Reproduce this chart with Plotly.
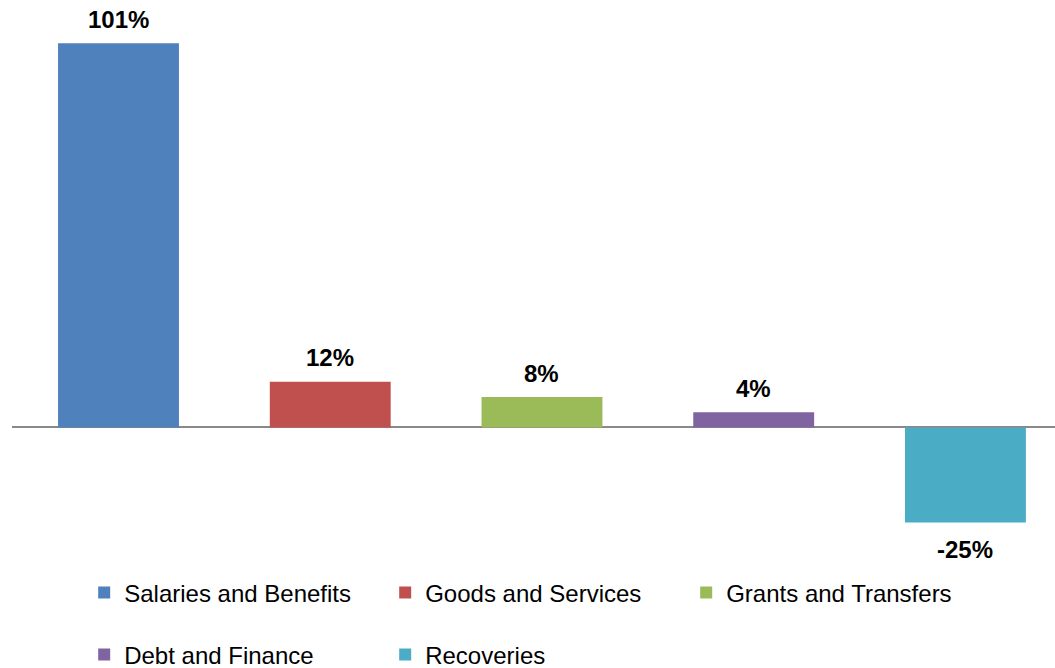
import plotly.graph_objects as go

categories = ["Salaries and Benefits", "Goods and Services", "Grants and Transfers",
              "Debt and Finance", "Recoveries"]
values = [101, 12, 8, 4, -25]
colors = ["#4F81BD", "#C0504D", "#9BBB59", "#8064A2", "#4BACC6"]
legend_ids = ["legend", "legend", "legend", "legend2", "legend2"]

FONT = "Liberation Sans, Arial, sans-serif"

fig = go.Figure()
for i, (cat, v, c, lg) in enumerate(zip(categories, values, colors, legend_ids)):
    fig.add_trace(go.Bar(
        x=[i], y=[v], name=cat, marker=dict(color=c, line=dict(width=0)),
        width=0.571, legend=lg, hoverinfo="skip",
    ))
    fig.add_annotation(
        x=i, y=v, text=f"<b>{v}%</b>", showarrow=False,
        yanchor="middle", yshift=24 if v >= 0 else -27,
        font=dict(family=FONT, size=24, color="#000000"),
    )

legend_common = dict(
    orientation="h", xanchor="left", yanchor="middle",
    xref="container", yref="container",
    font=dict(family=FONT, size=24, color="#000000"),
    entrywidth=256, entrywidthmode="pixels", bgcolor="rgba(0,0,0,0)",
    itemclick=False, itemdoubleclick=False,
)

fig.update_layout(
    width=1055, height=668,
    margin=dict(l=12, r=0, t=28, b=115, autoexpand=False),
    paper_bgcolor="white", plot_bgcolor="white",
    barmode="overlay",
    showlegend=True,
    xaxis=dict(range=[-0.503, 4.423], visible=False, fixedrange=True),
    yaxis=dict(range=[-33, 105], showgrid=False, showticklabels=False,
               zeroline=True, zerolinecolor="#898989", zerolinewidth=2,
               fixedrange=True),
    legend=dict(x=0.0798, y=1 - 593 / 668, **legend_common),
    legend2=dict(x=0.0798, y=1 - 655 / 668, **legend_common),
)

fig.write_html("out.html")
